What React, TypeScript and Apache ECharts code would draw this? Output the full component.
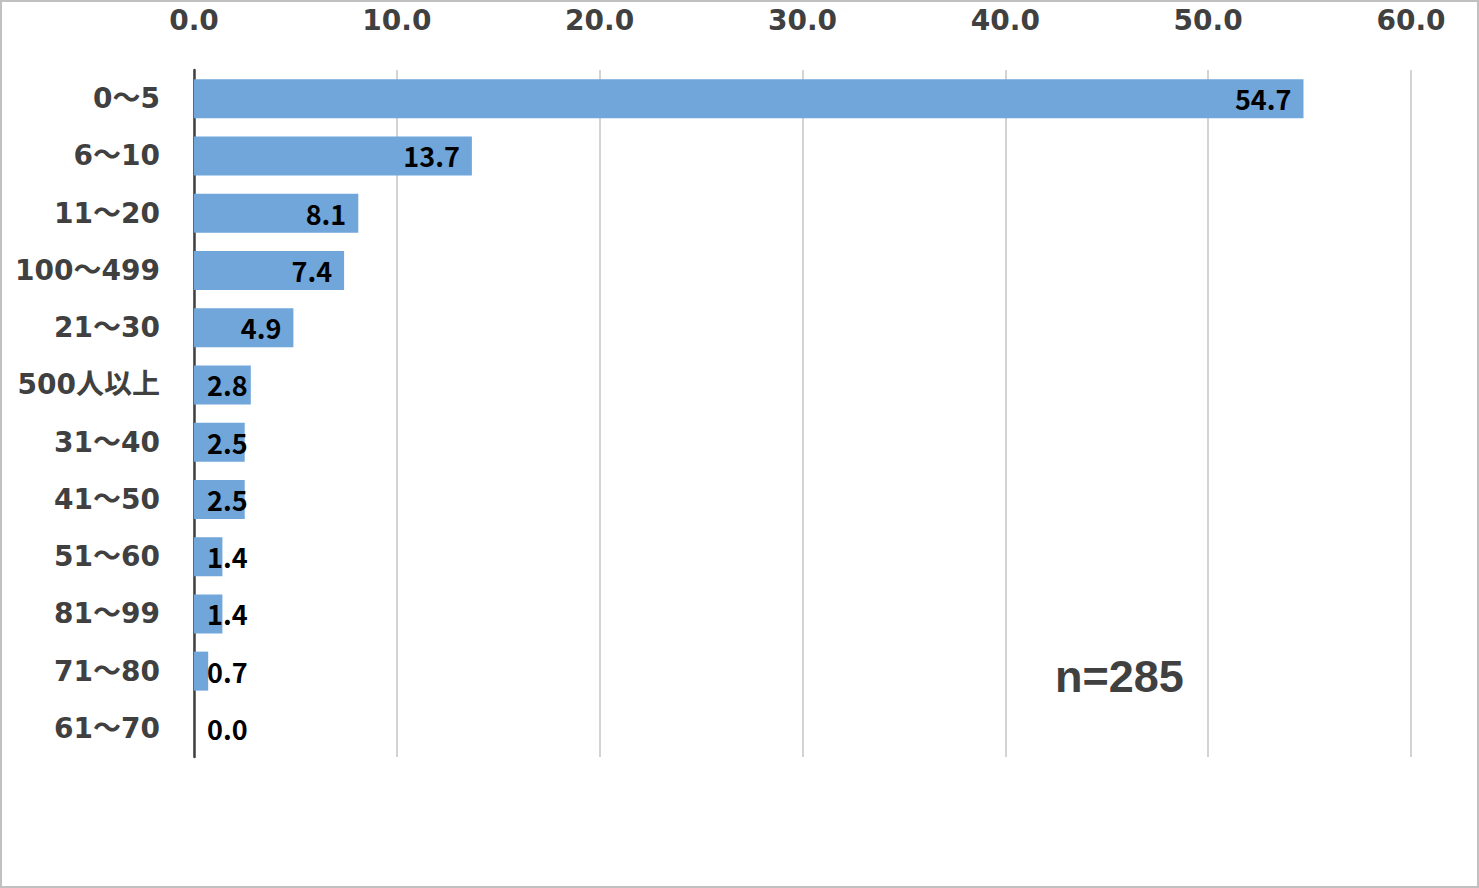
import React, { useEffect, useRef } from "react";
import * as echarts from "echarts";

const categories = ["0～5", "6～10", "11～20", "100～499", "21～30", "500人以上", "31～40", "41～50", "51～60", "81～99", "71～80", "61～70"];
const values = [54.7, 13.7, 8.1, 7.4, 4.9, 2.8, 2.5, 2.5, 1.4, 1.4, 0.7, 0.0];
const xTicks = { min: 0, max: 60, interval: 10 };
const noteText = "n=285";

const FONT = "'Noto Sans CJK JP', 'Noto Sans', sans-serif";
const AXIS_FONT = "'DejaVu Sans', 'Noto Sans CJK JP', sans-serif";

export default function App() {
  const ref = useRef<HTMLDivElement>(null);
  useEffect(() => {
    document.body.style.margin = "0";
    const chart = echarts.init(ref.current!, null, { renderer: "svg" });
    chart.setOption({
      animation: false,
      backgroundColor: "#ffffff",
      grid: { left: 194, right: 68, top: 70, bottom: 131, containLabel: false },
      xAxis: {
        type: "value",
        position: "top",
        min: xTicks.min,
        max: xTicks.max,
        interval: xTicks.interval,
        axisLine: { show: false },
        axisTick: { show: false },
        splitLine: { show: true, lineStyle: { color: "#c4c4c4", width: 1.5 } },
        axisLabel: {
          formatter: (v: number) => v.toFixed(1),
          fontSize: 28,
          fontWeight: "bold",
          color: "#404040",
          fontFamily: AXIS_FONT,
          margin: 36,
        },
      },
      yAxis: {
        type: "category",
        inverse: true,
        data: categories,
        axisLine: { show: true, lineStyle: { color: "#404040", width: 2.5 } },
        axisTick: { show: false },
        axisLabel: {
          fontSize: 28,
          fontWeight: "bold",
          color: "#404040",
          fontFamily: AXIS_FONT,
          margin: 34,
          padding: [0, 0, 4, 0],
        },
      },
      series: [
        {
          type: "bar",
          barWidth: 39,
          data: values.map((v) => ({
            value: v,
            label: v >= 4
              ? { position: "insideRight", distance: 12 }
              : { position: "insideLeft", distance: 13 },
          })),
          itemStyle: { color: "#70a6da" },
          label: {
            show: true,
            formatter: (p: any) => Number(p.value).toFixed(1),
            fontSize: 27,
            fontWeight: "bold",
            color: "#000000",
            fontFamily: FONT,
          },
        },
      ],
      graphic: [
        {
          type: "rect",
          shape: { x: 1, y: 1, width: 1477, height: 886 },
          style: { fill: "none", stroke: "#c0c0c0", lineWidth: 2 },
          silent: true,
        },
        {
          type: "text",
          left: 1055,
          top: 654,
          style: {
            text: noteText,
            fontSize: 45,
            fontWeight: "bold",
            fill: "#404040",
            fontFamily: "'Liberation Sans', Arial, sans-serif",
          },
        },
      ],
    });
    return () => chart.dispose();
  }, []);
  return <div ref={ref} style={{ position: "fixed", left: 0, top: 0, width: 1479, height: 888 }} />;
}
